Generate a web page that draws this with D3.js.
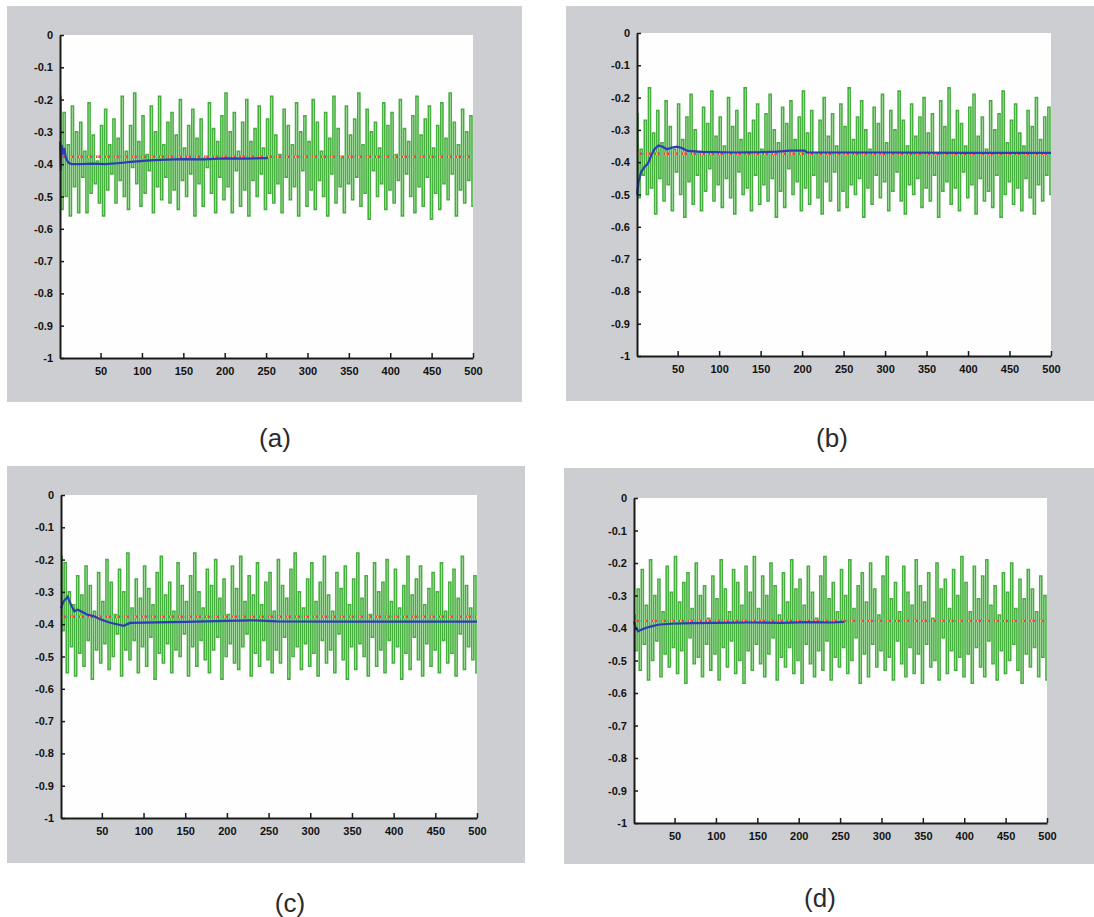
<!DOCTYPE html>
<html>
<head>
<meta charset="utf-8">
<script src="https://cdn.jsdelivr.net/npm/d3@7"></script>
<style>
    body { margin: 0; background: #fff; }
    svg { display: block; }
    .tick text { font-family: "Liberation Sans Narrow", "Liberation Sans", Arial, sans-serif; font-weight: bold; font-size: 11px; fill: #111; }
    .axis path, .axis line { stroke: #1a1a1a; }
    .axis path { stroke-width: 2; }
    .axis line { stroke-width: 1.5; }
    .caption { font-family: "Liberation Sans", Arial, sans-serif; font-size: 26px; fill: #2a2a2a; }
</style>
</head>
<body>
<div id="chart"></div>
<script>
// tick values
const xTicks = [50, 100, 150, 200, 250, 300, 350, 400, 450, 500];
const yTicks = [0, -0.1, -0.2, -0.3, -0.4, -0.5, -0.6, -0.7, -0.8, -0.9, -1];
const yTickLabels = ['0', '-0.1', '-0.2', '-0.3', '-0.4', '-0.5', '-0.6', '-0.7', '-0.8', '-0.9', '-1'];
const captions = ['(a)', '(b)', '(c)', '(d)'];

// green noisy signal, 200 samples spread over 1..500
const greenA = [
    -.19,-.54,-.24,-.50,-.34,-.56,-.22,-.47,-.30,-.55,-.27,-.44,-.36,-.55,-.21,-.49,-.31,-.46,-.39,-.52,
    -.28,-.56,-.23,-.48,-.34,-.43,-.26,-.52,-.32,-.45,-.19,-.50,-.36,-.54,-.28,-.41,-.18,-.46,-.33,-.53,
    -.25,-.49,-.37,-.42,-.22,-.55,-.30,-.47,-.19,-.51,-.34,-.44,-.27,-.52,-.24,-.48,-.31,-.54,-.20,-.45,
    -.35,-.50,-.28,-.43,-.23,-.56,-.32,-.46,-.26,-.53,-.38,-.41,-.21,-.49,-.29,-.55,-.33,-.44,-.25,-.51,
    -.18,-.47,-.30,-.55,-.24,-.42,-.36,-.53,-.27,-.48,-.20,-.56,-.33,-.45,-.29,-.50,-.22,-.43,-.35,-.54,
    -.26,-.49,-.19,-.52,-.31,-.46,-.37,-.55,-.23,-.44,-.28,-.51,-.34,-.47,-.21,-.56,-.30,-.42,-.25,-.53,
    -.33,-.48,-.20,-.54,-.27,-.45,-.36,-.50,-.24,-.56,-.32,-.43,-.19,-.52,-.29,-.47,-.38,-.55,-.22,-.46,
    -.31,-.51,-.26,-.44,-.18,-.53,-.34,-.49,-.23,-.57,-.30,-.42,-.27,-.50,-.35,-.46,-.21,-.54,-.28,-.48,
    -.24,-.52,-.37,-.45,-.20,-.56,-.29,-.43,-.33,-.50,-.25,-.55,-.19,-.47,-.31,-.53,-.26,-.44,-.22,-.57,
    -.35,-.49,-.28,-.54,-.21,-.46,-.32,-.51,-.18,-.43,-.27,-.56,-.34,-.48,-.23,-.52,-.30,-.45,-.25,-.53,
];
const greenB = [
    -.25,-.51,-.36,-.44,-.27,-.50,-.17,-.48,-.31,-.56,-.24,-.45,-.34,-.52,-.21,-.47,-.29,-.55,-.36,-.43,
    -.22,-.50,-.33,-.57,-.26,-.46,-.19,-.53,-.30,-.44,-.37,-.55,-.23,-.49,-.28,-.42,-.18,-.52,-.32,-.47,
    -.26,-.54,-.35,-.45,-.20,-.51,-.29,-.56,-.24,-.43,-.33,-.50,-.17,-.48,-.31,-.55,-.27,-.44,-.22,-.53,
    -.36,-.47,-.25,-.52,-.19,-.45,-.30,-.57,-.34,-.49,-.23,-.54,-.28,-.42,-.21,-.50,-.33,-.46,-.26,-.55,
    -.18,-.48,-.31,-.53,-.24,-.44,-.37,-.51,-.27,-.56,-.20,-.46,-.32,-.52,-.25,-.43,-.35,-.55,-.22,-.49,
    -.29,-.54,-.17,-.47,-.33,-.50,-.26,-.45,-.21,-.57,-.30,-.48,-.36,-.53,-.23,-.44,-.28,-.51,-.19,-.46,
    -.34,-.55,-.24,-.49,-.30,-.43,-.18,-.52,-.27,-.56,-.35,-.47,-.22,-.50,-.32,-.45,-.26,-.54,-.20,-.48,
    -.31,-.52,-.25,-.44,-.37,-.57,-.21,-.49,-.29,-.46,-.17,-.53,-.33,-.48,-.24,-.55,-.28,-.43,-.35,-.51,
    -.23,-.47,-.19,-.56,-.32,-.45,-.26,-.52,-.36,-.49,-.21,-.54,-.30,-.44,-.25,-.57,-.18,-.50,-.34,-.46,
    -.27,-.53,-.22,-.48,-.31,-.55,-.35,-.45,-.24,-.51,-.29,-.56,-.20,-.47,-.33,-.52,-.26,-.44,-.23,-.50,
];
const greenC = [
    -.19,-.42,-.21,-.55,-.30,-.47,-.34,-.56,-.25,-.49,-.31,-.53,-.22,-.45,-.28,-.57,-.36,-.48,-.24,-.52,
    -.33,-.46,-.20,-.54,-.27,-.50,-.37,-.43,-.23,-.56,-.30,-.48,-.18,-.51,-.35,-.45,-.26,-.55,-.32,-.47,
    -.22,-.53,-.29,-.44,-.34,-.57,-.24,-.49,-.19,-.52,-.31,-.46,-.27,-.55,-.36,-.48,-.21,-.50,-.28,-.43,
    -.33,-.56,-.25,-.47,-.18,-.53,-.30,-.45,-.35,-.51,-.23,-.55,-.28,-.48,-.20,-.44,-.32,-.57,-.26,-.50,
    -.37,-.46,-.22,-.52,-.29,-.54,-.19,-.47,-.33,-.43,-.25,-.56,-.31,-.49,-.21,-.53,-.34,-.45,-.27,-.51,
    -.24,-.55,-.36,-.48,-.20,-.52,-.28,-.44,-.32,-.57,-.23,-.50,-.18,-.47,-.30,-.54,-.35,-.46,-.26,-.53,
    -.21,-.49,-.33,-.56,-.27,-.45,-.19,-.52,-.31,-.48,-.36,-.55,-.24,-.43,-.29,-.51,-.22,-.57,-.34,-.47,
    -.26,-.54,-.18,-.46,-.32,-.50,-.25,-.56,-.37,-.44,-.21,-.53,-.30,-.48,-.27,-.55,-.20,-.45,-.33,-.52,
    -.23,-.47,-.35,-.57,-.28,-.49,-.19,-.54,-.31,-.44,-.26,-.51,-.22,-.56,-.34,-.46,-.29,-.53,-.24,-.48,
    -.30,-.55,-.21,-.45,-.36,-.52,-.27,-.49,-.23,-.56,-.32,-.43,-.19,-.54,-.28,-.47,-.35,-.51,-.25,-.55,
];
const greenD = [
    -.36,-.47,-.28,-.53,-.22,-.45,-.33,-.56,-.19,-.50,-.30,-.44,-.25,-.55,-.35,-.48,-.21,-.52,-.29,-.46,
    -.18,-.54,-.32,-.47,-.26,-.57,-.23,-.43,-.34,-.51,-.20,-.49,-.30,-.55,-.27,-.45,-.37,-.53,-.24,-.48,
    -.31,-.56,-.19,-.46,-.28,-.52,-.35,-.44,-.22,-.54,-.26,-.50,-.33,-.57,-.21,-.47,-.29,-.53,-.18,-.45,
    -.34,-.51,-.24,-.55,-.30,-.48,-.20,-.43,-.27,-.56,-.36,-.49,-.23,-.52,-.32,-.46,-.19,-.54,-.28,-.50,
    -.25,-.57,-.33,-.45,-.21,-.51,-.29,-.55,-.37,-.47,-.24,-.53,-.18,-.44,-.31,-.56,-.26,-.49,-.35,-.52,
    -.22,-.46,-.30,-.54,-.19,-.50,-.34,-.43,-.27,-.57,-.23,-.48,-.32,-.55,-.20,-.45,-.28,-.52,-.36,-.47,
    -.24,-.53,-.18,-.49,-.31,-.56,-.26,-.44,-.35,-.51,-.21,-.55,-.29,-.46,-.33,-.54,-.19,-.48,-.27,-.57,
    -.32,-.45,-.23,-.52,-.37,-.50,-.20,-.56,-.28,-.43,-.25,-.54,-.34,-.47,-.22,-.53,-.30,-.49,-.18,-.55,
    -.26,-.48,-.35,-.57,-.21,-.46,-.31,-.52,-.24,-.55,-.19,-.44,-.33,-.51,-.27,-.56,-.36,-.47,-.23,-.54,
    -.29,-.50,-.20,-.45,-.34,-.53,-.25,-.57,-.31,-.48,-.22,-.52,-.28,-.46,-.35,-.55,-.24,-.49,-.30,-.56,
];

// blue estimate: [step, value]
const blueA = [[1,-.33],[2,-.42],[3,-.34],[4,-.37],[6,-.35],[8,-.38],[11,-.395],[15,-.40],[25,-.40],[40,-.398],
    [55,-.40],[70,-.397],[90,-.392],[110,-.388],[130,-.386],[150,-.384],[175,-.385],[200,-.382],[225,-.383],[252,-.381]];
const blueB = [[1,-.50],[3,-.46],[6,-.43],[10,-.415],[14,-.405],[18,-.38],[22,-.36],[27,-.348],[32,-.352],[37,-.36],
    [43,-.355],[49,-.352],[55,-.356],[62,-.365],[80,-.368],[120,-.37],[150,-.369],[170,-.367],[185,-.364],[203,-.364],
    [206,-.37],[300,-.37],[400,-.371],[500,-.371]];
const blueC = [[1,-.35],[4,-.33],[9,-.315],[13,-.34],[17,-.36],[21,-.355],[25,-.36],[32,-.37],[40,-.375],[48,-.385],
    [58,-.394],[68,-.40],[76,-.405],[84,-.396],[100,-.395],[150,-.393],[200,-.39],[230,-.388],[260,-.391],[350,-.392],[500,-.392]];
const blueD = [[1,-.38],[3,-.40],[6,-.41],[10,-.405],[15,-.40],[22,-.395],[30,-.39],[45,-.387],[70,-.385],[100,-.384],
    [140,-.383],[180,-.384],[210,-.382],[240,-.383],[255,-.381]];

// true value (red dashed reference)
const redLevels = [-0.377, -0.374, -0.377, -0.378];

const greens = [greenA, greenB, greenC, greenD];
const blues = [blueA, blueB, blueC, blueD];

// layout of the four pasted figures
const panels = [
    { bg: [7, 6, 515, 396],   plot: { left: 60,  top: 35,  right: 473,  bottom: 358 }, cap: [275, 447] },
    { bg: [566, 6, 528, 395], plot: { left: 637, top: 33,  right: 1051, bottom: 356 }, cap: [832, 447] },
    { bg: [7, 466, 518, 397], plot: { left: 61,  top: 495, right: 477,  bottom: 818 }, cap: [290, 912] },
    { bg: [564, 468, 530, 396], plot: { left: 634, top: 498, right: 1047, bottom: 823 }, cap: [820, 907] },
];

const svg = d3.select('#chart').append('svg')
    .attr('width', 1094)
    .attr('height', 917);

panels.forEach((p, k) => {
    const g = svg.append('g');
    const { left, top, right, bottom } = p.plot;

    g.append('rect')
        .attr('x', p.bg[0]).attr('y', p.bg[1])
        .attr('width', p.bg[2]).attr('height', p.bg[3])
        .attr('fill', '#cdced2');
    g.append('rect')
        .attr('x', left).attr('y', top)
        .attr('width', right - left).attr('height', bottom - top)
        .attr('fill', '#fefefe');

    const x = d3.scaleLinear().domain([1, 500]).range([left, right]);
    const y = d3.scaleLinear().domain([-1, 0]).range([bottom, top]);

    const green = greens[k];
    const step = 499 / (green.length - 1);
    // matlab-ish dense signal: vertical strokes between samples
    const line = d3.line()
        .curve(d3.curveStep)
        .x((d, i) => x(1 + i * step))
        .y(d => y(d));

    g.append('path')
        .datum(green)
        .attr('d', line)
        .attr('fill', 'none')
        .attr('stroke', '#45b03d')
        .attr('stroke-width', 1.6);

    // red dashed true level with coloured dots in between
    const lvl = [[1, redLevels[k]], [500, redLevels[k]]];
    const flat = d3.line().x(d => x(d[0])).y(d => y(d[1]));
    const dashes = [
        { c: '#e8434a', a: '5,4', o: 0 },
        { c: '#4cc6d6', a: '1.5,7.5', o: -5.5 },
        { c: '#e2d43e', a: '1.5,7.5', o: -1 },
    ];
    dashes.forEach(s => {
        g.append('path')
            .datum(lvl)
            .attr('d', flat)
            .attr('fill', 'none')
            .attr('stroke', s.c)
            .attr('stroke-width', 2.4)
            .attr('stroke-dasharray', s.a)
            .attr('stroke-dashoffset', s.o);
    });

    g.append('path')
        .datum(blues[k])
        .attr('d', flat)
        .attr('fill', 'none')
        .attr('stroke', '#2f3db5')
        .attr('stroke-width', 2.2);

    // axes
    g.append('g')
        .attr('class', 'axis')
        .attr('transform', `translate(${left},0)`)
        .call(d3.axisLeft(y)
            .tickValues(yTicks)
            .tickFormat((d, i) => yTickLabels[i])
            .tickSize(-4)
            .tickSizeOuter(0)
            .tickPadding(7));

    g.append('g')
        .attr('class', 'axis')
        .attr('transform', `translate(0,${bottom})`)
        .call(d3.axisBottom(x)
            .tickValues(xTicks)
            .tickSize(-5)
            .tickSizeOuter(0)
            .tickPadding(9));

    g.append('text')
        .attr('class', 'caption')
        .attr('x', p.cap[0])
        .attr('y', p.cap[1])
        .attr('text-anchor', 'middle')
        .text(captions[k]);
});
</script>
</body>
</html>
